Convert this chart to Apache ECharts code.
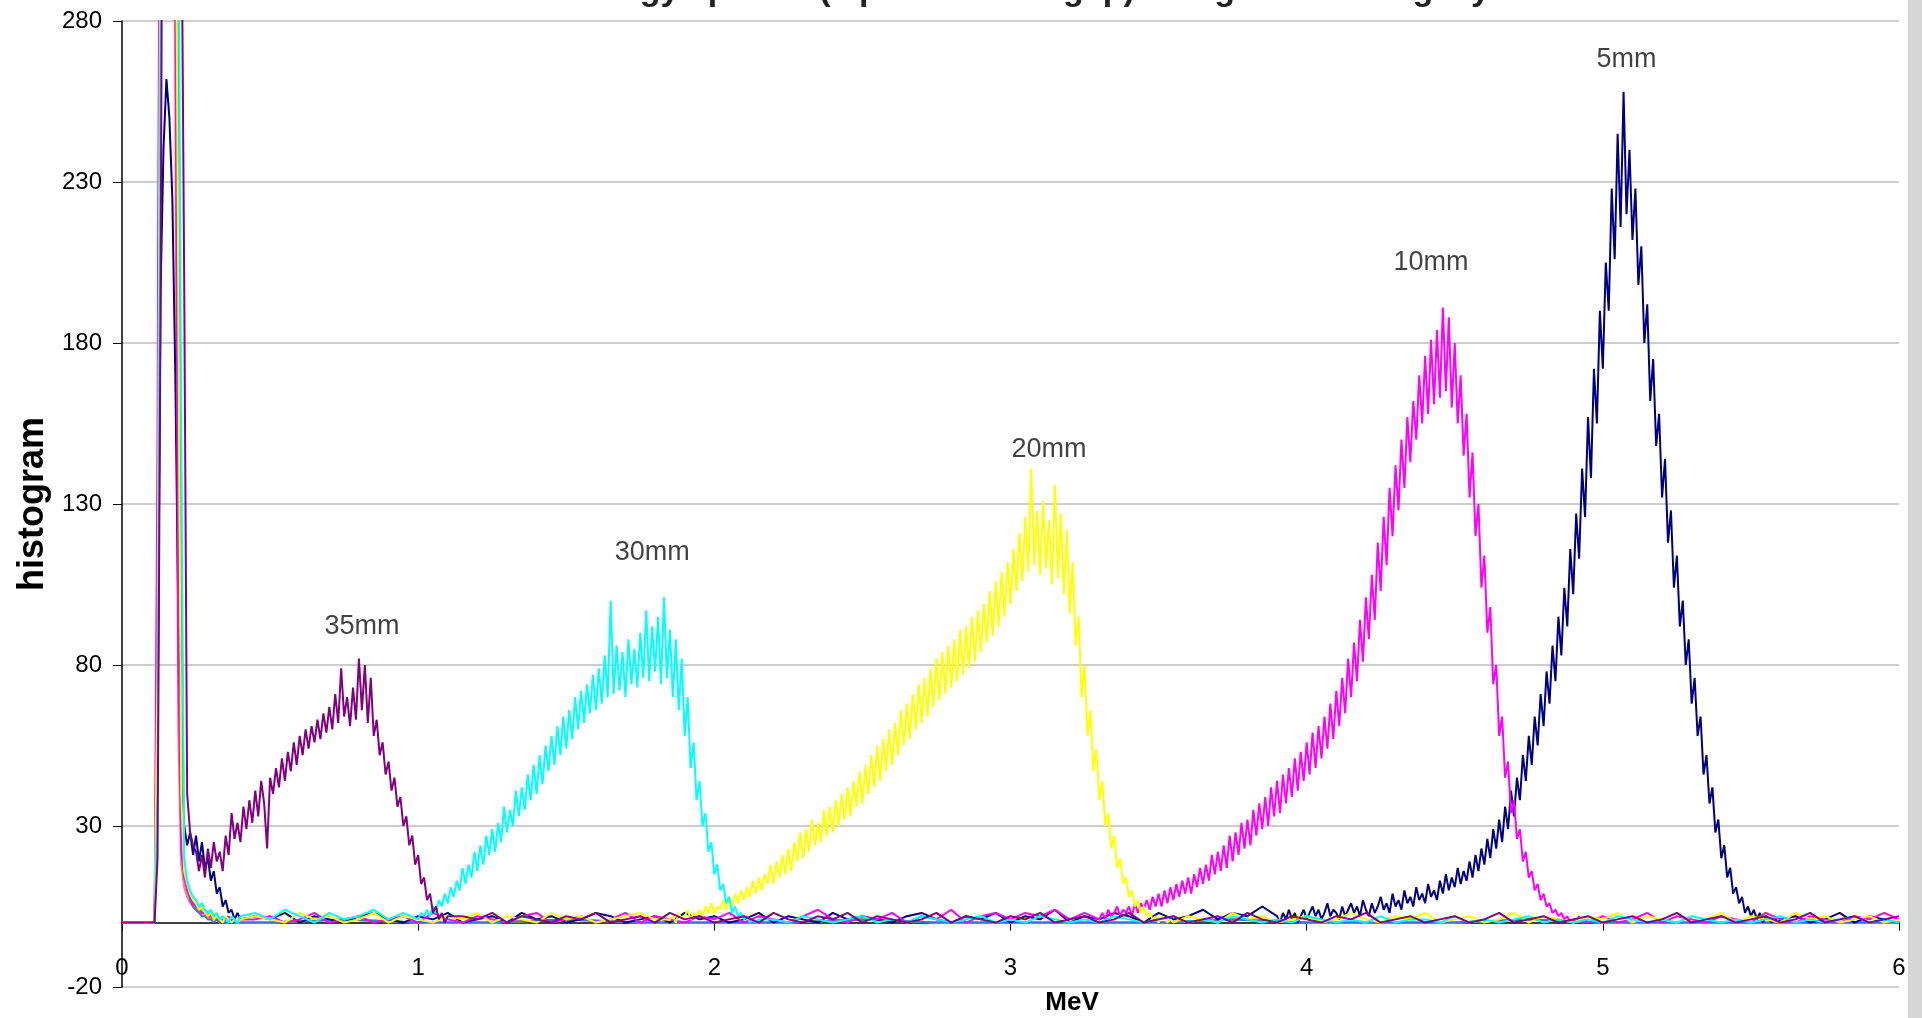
<!DOCTYPE html>
<html>
<head>
<meta charset="utf-8">
<title>histogram</title>
<script src="https://cdn.jsdelivr.net/npm/echarts@6/dist/echarts.min.js"></script>
<style>
  html, body { margin: 0; padding: 0; background: #fff; }
  #chart { width: 1922px; height: 1018px; }
</style>
</head>
<body>
<div id="chart"></div>
<script>
// x axis (MeV) and y axis (histogram) ticks
const xTicks = [0, 1, 2, 3, 4, 5, 6];
const yTicks = [-20, 30, 80, 130, 180, 230, 280];

// baseline samples every 0.05 MeV from 0 to 6 (121 values)
const navyBase = [
  0,0,0,0,0,0,0,0,0,2, 1,3,0,2,1,0,2,3,1,0, 2,1,3,0,1,2,0,3,1,2, 0,1,3,2,0,1,2,0,3,1,
  2,0,1,3,0,2,1,0,3,1, 2,1,0,2,3,1,0,2,1,3, 0,2,1,4,0,2,1,3,2,0, 3,1,2,4,1,3,2,5,2,3,
  0,0,0,0,0,0,0,0,0,0, 0,0,0,0,0,0,0,0,0,0, 0,0,0,0,0,0,0,0,0,0, 0,0,0,2,0,1,3,0,2,1, 0
];
const magentaBase = [
  0,0,0,0,0,0,0,0,0,1, 2,0,1,3,0,1,2,0,1,2, 0,3,1,0,2,1,0,2,3,0, 1,2,0,1,3,0,2,1,0,2,
  1,3,0,2,1,0,2,4,1,0, 2,1,3,0,2,1,4,0,2,3, 1,3,2,4,1,3,0,0,0,0, 0,0,0,0,0,0,0,0,0,0,
  0,0,0,0,0,0,0,0,0,0, 0,0,0,0,0,0,0,0,0,0, 2,0,1,3,0,2,1,0,2,1, 0,3,1,0,2,1,0,2,1,3, 1
];
const yellowBase = [
  0,0,0,0,0,0,0,0,0,2, 1,0,3,1,2,0,1,3,0,2, 1,0,2,1,3,0,2,1,0,3, 1,2,0,1,2,3,1,0,0,0,
  0,0,0,0,0,0,0,0,0,0, 0,0,0,0,0,0,0,0,0,0, 0,0,0,0,0,0,0,0,0,0, 0,0,2,1,0,3,1,2,0,1,
  2,0,1,3,1,0,2,1,3,0, 1,2,0,1,3,0,2,1,0,2, 1,3,0,2,1,0,2,1,3,0, 2,1,0,3,1,2,0,1,2,0, 1
];
const cyanBase = [
  0,0,0,0,0,0,0,0,0,3, 1,4,2,0,3,1,2,4,1,3, 0,0,0,0,0,0,0,0,0,0, 0,0,0,0,0,0,0,0,0,0,
  0,0,0,0,1,0,2,1,0,1, 2,0,1,0,2,1,0,1,2,0, 1,0,2,1,0,1,0,2,1,0, 1,2,0,1,0,2,1,0,1,0,
  2,1,0,1,0,2,0,1,1,0, 2,0,1,0,1,2,0,1,0,1, 0,2,1,0,1,0,2,1,0,1, 0,1,2,0,1,0,1,2,0,1, 0
];
const purpleBase = [
  0,0,0,0,0,0,0,0,0,0, 0,0,0,0,0,0,0,0,0,0, 0,0,0,2,1,3,0,2,1,0, 2,1,3,0,1,2,0,3,1,2,
  0,1,2,0,3,1,0,2,1,3, 0,2,1,0,1,3,0,2,1,0, 2,1,3,0,1,2,0,1,3,0, 1,2,0,1,2,0,3,1,0,2,
  1,0,2,1,3,0,1,2,0,1, 2,0,1,3,0,1,2,0,1,2, 0,1,2,0,1,3,0,1,2,0, 1,2,0,1,3,0,1,2,0,1, 2
];
// other curves only show the low-energy spike; sampled every 0.25 MeV
const otherBase = [0,0,0,1,0,0,1,0,0,0,1,0,0,0,0,1,0,0,0,1,0,0,0,0,0];

// low-energy spike, every 0.01 MeV from 0.10
const navyLow    = [0,0,60,195,240,262,250,225,170,95, 40,30,24,28,21,27,19,25,17,20, 13,16,9,11,5,7,3,4,1,3, 1];
const magentaLow = [0,0,150,420,600,640,560,430,300,80, 22,14,10,8,6,5,4,3,3,2, 2,1,2,1,0,1,2,0,1,0, 1];
const yellowLow  = [0,0,80,330,520,600,580,470,350,200, 40,16,12,9,7,6,4,5,3,2, 3,1,2,1,0,2,1,0,1,0, 1];
const cyanLow    = [0,0,40,280,480,560,590,520,420,330, 150,20,13,10,8,7,5,6,4,3, 4,2,3,1,2,1,0,2,1,0, 2];
const purpleLow  = [0,0,20,190,420,520,560,540,470,400, 330,200,40,28,24];
const salmonLow  = [0,0,120,400,560,600,540,420,260,60, 18,11,8,6,5,4,3,3,2,2, 1,2,1,0,1,0,1,0,1,0, 0];
const orangeLow  = [0,0,90,360,540,590,560,450,320,150, 30,14,10,8,6,5,4,3,4,2, 1,2,1,0,1,0,0,1,0,0, 0];
const greenLow   = [0,0,60,300,500,580,570,480,380,260, 70,16,12,9,8,6,5,4,3,3, 2,1,2,1,0,1,0,1,0,0, 0];
const blueLow    = [0,0,50,240,470,560,580,500,400,300, 110,18,11,7,5,4,3,2,2,1, 1,0,1,0,1,0,0,1,0,0, 0];

// main peaks, every 0.01 MeV
const purplePeak = [ // 35mm, from 0.25
  22,16,21,14,23,17,25,19,22,16, 27,21,34,26,31,25,36,29,38,31,
  41,33,44,37,23,45,40,48,42,51, 44,53,47,56,49,58,52,60,54,61,
  56,63,57,65,59,67,60,71,62,79, 64,70,61,73,63,82,66,80,62,76,
  58,63,52,56,46,50,41,45,36,39, 30,33,24,27,18,21,12,14,7,9,
  3,5,1,3,0,2
];
const cyanPeak = [ // 30mm, from 1.00
  1,3,2,4,2,5,3,7,5,9, 6,11,8,13,10,17,12,18,14,22,
  16,24,18,27,21,29,22,31,25,36, 28,35,30,41,33,42,35,46,38,49,
  40,52,43,55,47,58,49,61,52,64, 54,66,57,70,60,72,62,74,65,77,
  66,79,68,83,70,100,71,86,72,84, 70,88,74,85,73,90,76,97,75,92,
  78,95,74,101,76,91,70,88,66,82, 58,70,48,56,38,44,30,34,22,25,
  15,18,10,12,6,8,3,5,2,3, 1,2,0,1,0,1
];
const yellowPeak = [ // 20mm, from 1.85
  1,2,0,3,1,2,4,1,3,2, 4,2,5,3,6,3,5,4,7,4,
  8,5,9,6,10,7,11,8,13,9, 14,10,15,12,18,12,19,14,21,15,
  23,16,25,19,28,20,29,22,32,24, 31,25,35,27,36,28,38,30,40,32,
  42,33,44,36,47,37,49,40,52,42, 55,44,57,47,60,49,62,52,66,55,
  68,57,71,60,74,62,76,64,79,67, 82,69,84,71,86,73,88,75,91,77,
  92,79,95,81,97,84,99,87,103,89, 106,92,109,95,112,99,116,103,121,106,
  126,109,141,111,128,108,131,110,125,105, 136,107,127,102,122,96,112,86,95,70,
  80,58,66,47,54,38,44,30,34,23, 27,17,20,12,14,8,10,5,7,3,
  5,2,3,1,2,0,2,1,0,1, 0
];
const magentaPeak = [ // 10mm, from 3.30
  1,3,1,4,2,3,5,2,4,3, 5,2,6,3,6,4,7,4,8,5,
  9,5,10,6,11,7,12,8,13,9, 14,9,15,11,17,12,18,13,21,15,
  22,16,24,17,27,19,28,21,31,23, 32,24,35,27,37,29,39,30,42,33,
  44,34,46,37,48,39,51,41,53,44, 56,46,59,48,61,51,64,54,68,57,
  72,61,76,65,82,70,87,75,94,81, 101,88,108,94,118,103,126,111,135,120,
  142,128,150,135,157,143,162,150,170,155, 176,158,181,161,184,163,191,165,188,160,
  180,155,170,145,158,132,146,120,130,104, 114,90,98,74,80,58,64,45,50,34,
  38,26,29,19,22,14,16,10,12,7, 9,5,6,3,4,2,3,1,2,0,
  1,0,2,0,1,0
];
const navyPeak = [ // 5mm, from 3.90
  2,0,3,1,4,1,3,0,2,4, 1,3,5,2,4,1,3,6,2,4,
  3,1,5,2,4,6,3,5,2,7, 4,2,6,3,5,8,4,6,3,9,
  5,7,4,10,6,8,5,11,7,9, 6,12,8,10,7,13,9,15,10,14,
  11,17,12,16,13,19,14,21,16,23, 18,26,20,29,23,32,25,36,29,41,
  33,45,38,52,44,58,49,64,55,71, 61,78,68,86,75,95,83,104,92,116,
  102,127,113,141,126,157,138,172,155,190, 172,205,190,228,206,245,216,258,220,240,
  212,228,198,210,180,192,162,175,148,158, 132,144,118,128,104,114,92,100,80,88,
  68,76,58,64,46,52,37,42,28,32, 20,24,14,17,9,11,6,8,3,5,
  2,4,1,3,0,2,1,0,2,0, 1
];

// peak names written on the chart
const peakNames = ['35mm', '30mm', '20mm', '10mm', '5mm'];
const peakNameAt = [[0.81, 92], [1.79, 115], [3.13, 147], [4.42, 205], [5.08, 268]];

const curves = [
  { name: 'a', color: '#FF8080', baseStep: 0.25, base: otherBase, low: salmonLow },
  { name: 'b', color: '#FF9900', baseStep: 0.25, base: otherBase, low: orangeLow },
  { name: 'c', color: '#66DD66', baseStep: 0.25, base: otherBase, low: greenLow },
  { name: 'd', color: '#3F74D0', baseStep: 0.25, base: otherBase, low: blueLow },
  { name: '5mm', color: '#000080', baseStep: 0.05, base: navyBase, low: navyLow, peakStart: 3.90, peak: navyPeak },
  { name: '10mm', color: '#FF00FF', baseStep: 0.05, base: magentaBase, low: magentaLow, peakStart: 3.30, peak: magentaPeak },
  { name: '20mm', color: '#FFFF00', baseStep: 0.05, base: yellowBase, low: yellowLow, peakStart: 1.85, peak: yellowPeak },
  { name: '30mm', color: '#00FFFF', baseStep: 0.05, base: cyanBase, low: cyanLow, peakStart: 1.00, peak: cyanPeak },
  { name: '35mm', color: '#800080', baseStep: 0.05, base: purpleBase, low: purpleLow, peakStart: 0.25, peak: purplePeak }
];

const LOW_START = 0.10;
const STEP = 0.01;

function round(x) {
  return Math.round(x * 1000) / 1000;
}

function buildPoints(c) {
  const lowEnd = LOW_START + (c.low.length - 1) * STEP;
  const peakEnd = c.peak ? c.peakStart + (c.peak.length - 1) * STEP : -1;
  const pts = [];
  c.base.forEach(function (v, i) {
    const x = round(i * c.baseStep);
    if (x >= LOW_START - 1e-6 && x <= lowEnd + 1e-6) return;
    if (c.peak && x >= c.peakStart - 1e-6 && x <= peakEnd + 1e-6) return;
    pts.push([x, v]);
  });
  c.low.forEach(function (v, i) {
    pts.push([round(LOW_START + i * STEP), v]);
  });
  if (c.peak) {
    c.peak.forEach(function (v, i) {
      pts.push([round(c.peakStart + i * STEP), v]);
    });
  }
  pts.sort(function (a, b) { return a[0] - b[0]; });
  return pts;
}

const font = 'Liberation Sans, Arial, sans-serif';

const series = curves.map(function (c) {
  return {
    name: c.name,
    type: 'line',
    data: buildPoints(c),
    symbol: 'none',
    sampling: null,
    clip: true,
    lineStyle: { color: c.color, width: 2 },
    itemStyle: { color: c.color },
    emphasis: { disabled: true }
  };
});

series.push({
  type: 'scatter',
  symbolSize: 0,
  silent: true,
  data: peakNames.map(function (n, i) {
    return { name: n, value: peakNameAt[i] };
  }),
  label: {
    show: true,
    position: 'inside',
    formatter: '{b}',
    fontSize: 27,
    color: '#111',
    fontFamily: font
  }
});

const chart = echarts.init(document.getElementById('chart'));

chart.setOption({
  animation: false,
  backgroundColor: '#fff',
  textStyle: { fontFamily: font },
  title: {
    text: 'Measured energy spectra (alpha after air gap) using scintillating layer',
    left: 'center',
    top: -31,
    textStyle: { fontSize: 34, fontWeight: 'bold', color: '#222', fontFamily: font }
  },
  grid: { left: 122, right: 23, top: 21, bottom: 31, containLabel: false, outerBoundsMode: 'none' },
  xAxis: {
    type: 'value',
    min: xTicks[0],
    max: xTicks[xTicks.length - 1],
    interval: 1,
    axisLine: { onZero: true, lineStyle: { color: '#000', width: 1.5 } },
    axisTick: { show: true, length: 8, lineStyle: { color: '#000' } },
    axisLabel: { inside: true, fontSize: 24, color: '#000', margin: 7, fontFamily: font },
    splitLine: { show: false }
  },
  yAxis: {
    type: 'value',
    min: yTicks[0],
    max: yTicks[yTicks.length - 1],
    interval: 50,
    name: 'histogram',
    nameLocation: 'middle',
    nameRotate: 90,
    nameGap: 59,
    nameTextStyle: { fontSize: 36, fontWeight: 'bold', color: '#000', fontFamily: font },
    axisLine: { show: true, lineStyle: { color: '#000', width: 1.5 } },
    axisTick: { show: true, length: 9, lineStyle: { color: '#000' } },
    axisLabel: { fontSize: 24, color: '#000', margin: 20, fontFamily: font },
    splitLine: { show: true, lineStyle: { color: '#bdbdbd', width: 1.5 } }
  },
  graphic: [
    {
      type: 'text',
      x: 1072,
      y: 1003,
      style: {
        text: 'MeV',
        font: 'bold 26px Liberation Sans, Arial, sans-serif',
        fill: '#000',
        textAlign: 'center',
        textVerticalAlign: 'middle'
      }
    },
    {
      type: 'rect',
      shape: { x: 1908, y: 0, width: 14, height: 1018 },
      style: { fill: '#d6d6d6' }
    }
  ],
  series: series
});
</script>
</body>
</html>
